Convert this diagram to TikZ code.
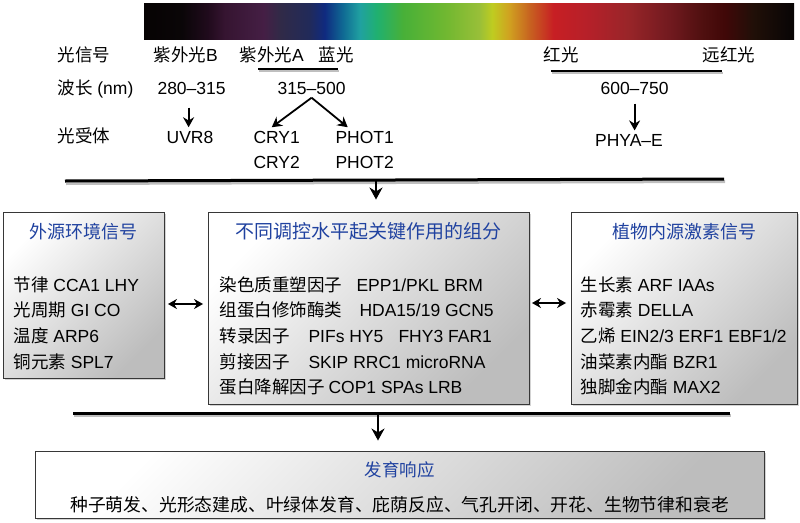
\documentclass[tikz,border=0pt]{standalone}
\usepackage{fontspec}
\setmainfont{Liberation Sans}
\newfontfamily\cjk{Noto Sans CJK SC}
\newcommand{\zh}[1]{{\cjk #1}}
\usetikzlibrary{arrows.meta,shadows,calc}

\definecolor{titolo}{RGB}{32,66,160}
\definecolor{bordo}{RGB}{55,55,55}

\pgfdeclarehorizontalshading{spettro}{100bp}{%
rgb(0bp)=(.024,.012,.012); rgb(25bp)=(.024,.012,.012);
rgb(27.9bp)=(.04,.024,.03); rgb(29.9bp)=(.125,.04,.11);
rgb(31.2bp)=(.21,.08,.19); rgb(34.2bp)=(.27,.12,.27);
rgb(35.5bp)=(.19,.165,.28); rgb(37.7bp)=(.13,.165,.35);
rgb(38.9bp)=(.06,.165,.5); rgb(40.3bp)=(.06,.415,.58);
rgb(41.6bp)=(.125,.63,.63); rgb(42.9bp)=(.125,.69,.44);
rgb(44.9bp)=(.28,.69,.22); rgb(48.2bp)=(.44,.72,.19);
rgb(50.8bp)=(.6,.75,.22); rgb(51.8bp)=(.75,.8,.125);
rgb(53.1bp)=(.815,.63,.125); rgb(54.7bp)=(.78,.38,.125);
rgb(56.5bp)=(.78,.12,.14); rgb(58.9bp)=(.72,.125,.16);
rgb(62.2bp)=(.6,.145,.16); rgb(65.5bp)=(.44,.1,.12);
rgb(68bp)=(.31,.06,.06); rgb(69.7bp)=(.25,.03,.03);
rgb(71.9bp)=(.125,.06,.03); rgb(75bp)=(.03,.02,.02);
rgb(100bp)=(.03,.02,.02)}

\begin{document}
\begin{tikzpicture}[x=1pt,y=-1pt,font=\fontsize{17.5}{21}\selectfont,
  testo/.style={anchor=base west},
  freccia/.style={line width=1.8pt,-{Stealth[length=10pt,width=11pt]}},
  frecciona/.style={line width=2.2pt,-{Stealth[length=12pt,width=13pt]}},
  doppia/.style={line width=1.8pt,{Stealth[length=9pt,width=10pt]}-{Stealth[length=9pt,width=10pt]}},
  barra/.style={line width=3pt},
  scatola/.style={draw=bordo,line width=0.9pt,inner sep=0pt,top color=white,bottom color=black!26,
    shading angle=45,drop shadow={shadow xshift=2pt,shadow yshift=-2pt,opacity=.35}}]
\useasboundingbox (0,0) rectangle (800,522);

\begin{scope}
\shade[shading=spettro] (144,3) rectangle (794,39);

\node[testo] (ls) at (54,61) {\zh{光信号}};
\node[testo] (uvb) at (150,61) {\zh{紫外光}B};
\node[testo] (uva) at (236,61) {\zh{紫外光}A};
\node[testo] (blu) at (315,61) {\zh{蓝光}};
\node[testo] (ros) at (540,61) {\zh{红光}};
\node[testo] (frs) at (699,61) {\zh{远红光}};

\coordinate (s1) at (258,69);
\coordinate (s2) at (338,69);
\coordinate (s3) at (551,71);
\coordinate (s4) at (722,71);
\draw[line width=2.2pt,black!25] ([shift={(1,2)}]s1) -- ([shift={(1,2)}]s2);
\draw[line width=2.2pt,black!25] ([shift={(1,2)}]s3) -- ([shift={(1,2)}]s4);
\draw[line width=2.2pt] (s1) -- (s2);
\draw[line width=2.2pt] (s3) -- (s4);

\node[testo] (lw) at (54,94) {\zh{波长} (nm)};
\node[testo] (w1) at (154,94) {280–315};
\node[testo] (w2) at (274,94) {315–500};
\node[testo] (w3) at (597,94) {600–750};

\node[testo] (lr) at (54,142) {\zh{光受体}};
\node[anchor=base] (uvr8) at (190,143) {UVR8};
\node[testo] (cry1) at (250,143) {CRY1};
\node[testo] (cry2) at (250,168) {CRY2};
\node[testo] (phot1) at (332,143) {PHOT1};
\node[testo] (phot2) at (332,168) {PHOT2};
\node[anchor=base] (phy) at (629,146) {PHYA–E};

\draw[freccia,shorten <=10pt] ([xshift=-3pt]w1.south) -- ([xshift=-3pt]w1.south |- uvr8.north);
\draw[freccia] (w2.south) -- ([xshift=-5pt]cry1.north);
\draw[freccia] (w2.south) -- ([xshift=-17pt]phot1.north);
\draw[freccia,shorten <=6pt] (w3.south) -- (w3.south |- phy.north);

\coordinate (b1) at (65,181);
\coordinate (b2) at (724,179);
\draw[barra,black!25] ([shift={(1,2.5)}]b1) -- ([shift={(1,2.5)}]b2);
\draw[barra] (b1) -- (b2);

% riquadri
\node[scatola,minimum width=161pt,minimum height=166pt] (sx) at (83.5,295) {};
\node[scatola,minimum width=321pt,minimum height=192pt] (cn) at (368.5,308) {};
\node[scatola,minimum width=226pt,minimum height=192pt] (dx) at (684,308) {};
\node[scatola,minimum width=729pt,minimum height=67pt] (gi) at (399.5,484.5) {};

\coordinate (f1) at (376,180);
\draw[frecciona,shorten >=12pt] (f1) -- (f1 |- cn.north);

\node[anchor=base,text=titolo,font=\fontsize{18}{21}\selectfont] (tsx) at (sx.center |- 0,238) {\zh{外源环境信号}};
\node[testo] (sx1) at (10,291) {\zh{节律} CCA1 LHY};
\node[testo] (sx2) at (10,316.7) {\zh{光周期} GI CO};
\node[testo] (sx3) at (10,342.4) {\zh{温度} ARP6};
\node[testo] (sx4) at (10,368.1) {\zh{铜元素} SPL7};

\node[anchor=base,text=titolo,font=\fontsize{19}{21}\selectfont] (tcn) at (cn.center |- 0,238) {\zh{不同调控水平起关键作用的组分}};
\node[testo] (cn1) at (216,291) {\makebox[137pt][l]{\zh{染色质重塑因子}}EPP1/PKL BRM};
\node[testo] (cn2) at (216,316.7) {\makebox[140pt][l]{\zh{组蛋白修饰酶类}}HDA15/19 GCN5};
\node[testo] (cn3) at (216,342.4) {\makebox[89pt][l]{\zh{转录因子}}\makebox[90pt][l]{PIFs HY5}FHY3 FAR1};
\node[testo] (cn4) at (216,368.1) {\makebox[89pt][l]{\zh{剪接因子}}SKIP RRC1 microRNA};
\node[testo] (cn5) at (216,393.8) {\makebox[109pt][l]{\zh{蛋白降解因子}}COP1 SPAs LRB};

\node[anchor=base,text=titolo,font=\fontsize{18}{21}\selectfont] (tdx) at (dx.center |- 0,238) {\zh{植物内源激素信号}};
\node[testo] (dx1) at (577,291) {\zh{生长素} ARF IAAs};
\node[testo] (dx2) at (577,316.7) {\zh{赤霉素} DELLA};
\node[testo] (dx3) at (577,342.4) {\zh{乙烯} EIN2/3 ERF1 EBF1/2};
\node[testo] (dx4) at (577,368.1) {\zh{油菜素内酯} BZR1};
\node[testo] (dx5) at (577,393.8) {\zh{独脚金内酯} MAX2};

\draw[doppia,shorten <=3.5pt,shorten >=4.5pt] (sx.east |- 0,304) -- (cn.west |- 0,304);
\draw[doppia,shorten <=2.5pt,shorten >=4.5pt] (cn.east |- 0,303) -- (dx.west |- 0,303);

\coordinate (b3) at (73,413);
\coordinate (b4) at (730,413);
\draw[barra,black!25] ([shift={(1,2.5)}]b3) -- ([shift={(1,2.5)}]b4);
\draw[barra] (b3) -- (b4);
\coordinate (f2) at (378,413);
\draw[frecciona,shorten >=10pt] (f2) -- (f2 |- gi.north);

\node[anchor=base,text=titolo] (tgi) at (gi.center |- 0,476) {\zh{发育响应}};
\node[anchor=base,font=\fontsize{17.8}{21}\selectfont] (gi1) at (gi.center |- 0,511) {\zh{种子萌发、光形态建成、叶绿体发育、庇荫反应、气孔开闭、开花、生物节律和衰老}};
\end{scope}

\end{tikzpicture}
\end{document}
